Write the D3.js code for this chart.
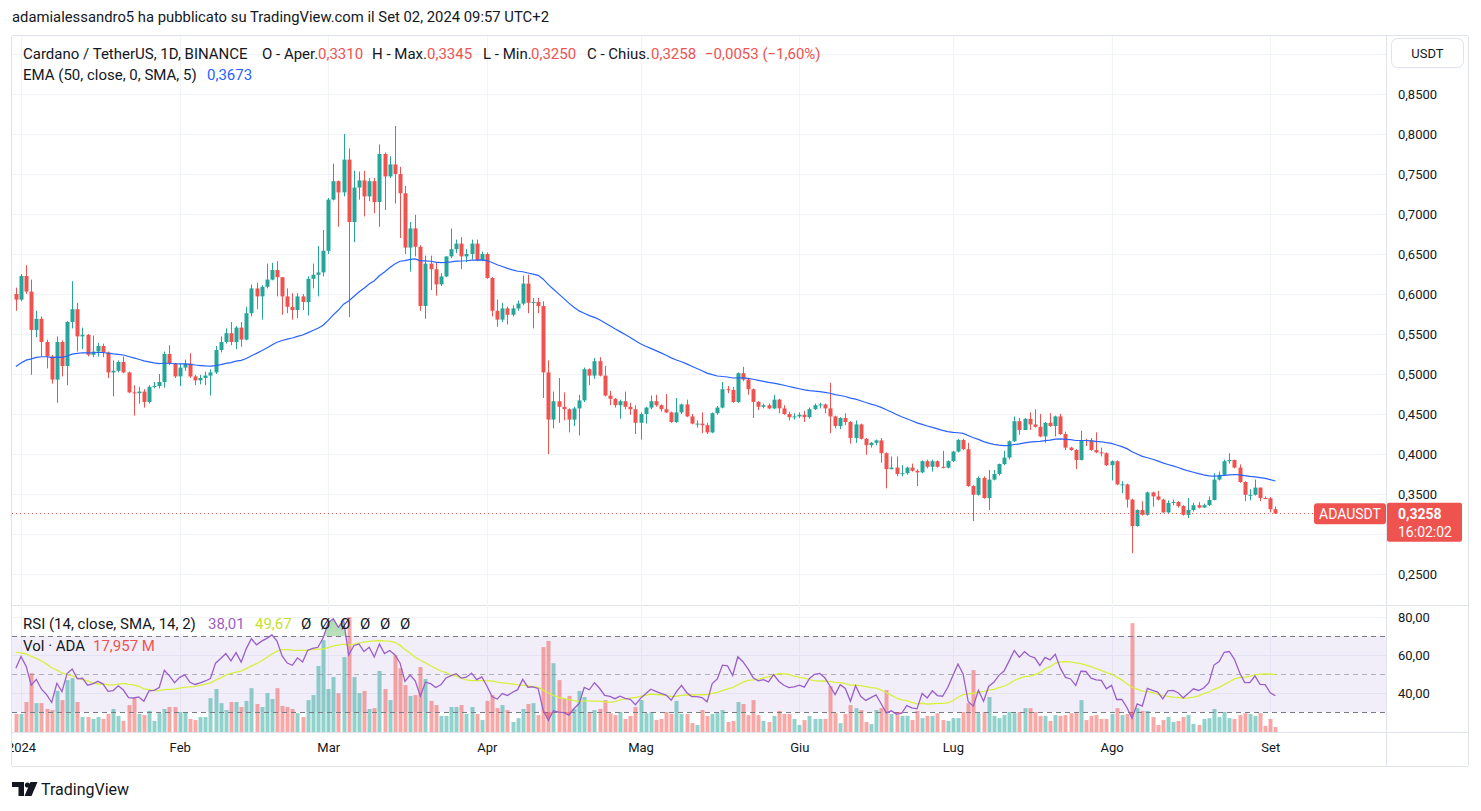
<!DOCTYPE html>
<html>
<head>
<meta charset="utf-8">
<script src="https://cdn.jsdelivr.net/npm/d3@7"></script>
<style>
  body { margin: 0; background: #fff; }
  svg { display: block; font-family: Roboto, "Noto Sans", sans-serif; }
  .axis text { fill: #131722; font-size: 13px; }
</style>
</head>
<body>
<svg id="chart" width="1481" height="811"></svg>
<script>
// daily candles ADA/USDT, 2023-12-31 .. 2024-09-02 (open = previous close)
var startDate = '2023-12-31';
var open0 = 0.600;
var closes = [
  0.593,
  // Jan
  0.6225,0.603,0.555,0.569,0.540,0.522,0.493,0.540,0.510,0.565,0.581,0.547,0.549,0.524,0.528,0.535,0.527,0.502,0.504,0.515,0.502,0.477,0.476,0.478,0.465,0.484,0.485,0.490,0.525,0.513,0.497,
  // Feb
  0.508,0.513,0.497,0.492,0.495,0.498,0.502,0.530,0.540,0.551,0.540,0.558,0.543,0.576,0.607,0.597,0.609,0.618,0.630,0.621,0.597,0.584,0.580,0.597,0.590,0.619,0.624,0.627,0.654,
  // Mar
  0.718,0.741,0.727,0.768,0.690,0.733,0.742,0.722,0.741,0.715,0.775,0.747,0.762,0.750,0.726,0.658,0.682,0.659,0.585,0.638,0.631,0.612,0.622,0.647,0.656,0.663,0.647,0.650,0.663,0.642,0.650,
  // Apr
  0.620,0.579,0.568,0.582,0.574,0.582,0.588,0.613,0.589,0.590,0.585,0.502,0.443,0.466,0.459,0.456,0.443,0.457,0.467,0.506,0.498,0.516,0.498,0.473,0.469,0.461,0.466,0.459,0.456,0.439,
  // May
  0.450,0.458,0.466,0.461,0.456,0.452,0.440,0.452,0.462,0.447,0.438,0.438,0.436,0.427,0.451,0.458,0.481,0.480,0.465,0.501,0.493,0.481,0.465,0.459,0.461,0.457,0.468,0.457,0.450,0.446,0.447,
  // Jun
  0.449,0.446,0.456,0.461,0.462,0.457,0.447,0.435,0.445,0.440,0.420,0.437,0.419,0.411,0.414,0.417,0.401,0.381,0.383,0.375,0.376,0.383,0.379,0.377,0.391,0.384,0.391,0.384,0.383,0.391,
  // Jul
  0.403,0.4175,0.406,0.360,0.349,0.370,0.345,0.368,0.375,0.3875,0.3955,0.416,0.441,0.430,0.444,0.437,0.434,0.422,0.439,0.435,0.447,0.425,0.408,0.405,0.3925,0.4175,0.417,0.405,0.402,0.401,0.386,
  // Aug
  0.391,0.362,0.362,0.343,0.310,0.330,0.324,0.352,0.347,0.343,0.327,0.339,0.340,0.335,0.324,0.330,0.336,0.333,0.336,0.3425,0.368,0.374,0.391,0.3925,0.383,0.365,0.349,0.349,0.358,0.345,0.3446,
  // Sep
  0.331,0.3258
];
var highs = [
  0.608,
  0.625,0.636,0.618,0.579,0.572,0.543,0.524,0.547,0.542,0.566,0.616,0.589,0.558,0.550,0.548,0.539,0.538,0.528,0.517,0.517,0.522,0.503,0.486,0.484,0.481,0.486,0.490,0.500,0.528,0.536,0.514,
  0.513,0.518,0.526,0.499,0.499,0.503,0.506,0.535,0.547,0.557,0.565,0.560,0.565,0.584,0.612,0.614,0.611,0.638,0.639,0.641,0.621,0.607,0.601,0.601,0.600,0.622,0.638,0.660,0.680,
  0.720,0.763,0.742,0.800,0.782,0.754,0.753,0.754,0.745,0.745,0.787,0.777,0.772,0.810,0.759,0.735,0.690,0.699,0.661,0.648,0.648,0.640,0.626,0.647,0.682,0.668,0.671,0.656,0.668,0.668,0.653,
  0.652,0.621,0.593,0.589,0.584,0.586,0.592,0.623,0.624,0.595,0.595,0.591,0.517,0.478,0.495,0.477,0.457,0.459,0.474,0.508,0.507,0.520,0.521,0.510,0.479,0.470,0.468,0.478,0.464,0.461,
  0.452,0.459,0.473,0.474,0.462,0.475,0.453,0.470,0.463,0.468,0.450,0.442,0.452,0.439,0.452,0.460,0.490,0.485,0.484,0.502,0.509,0.494,0.482,0.466,0.463,0.463,0.474,0.469,0.461,0.453,0.451,
  0.452,0.454,0.458,0.463,0.464,0.463,0.489,0.448,0.446,0.451,0.441,0.442,0.438,0.420,0.415,0.418,0.420,0.402,0.397,0.397,0.386,0.384,0.388,0.381,0.392,0.393,0.393,0.392,0.404,0.392,
  0.404,0.419,0.419,0.414,0.361,0.372,0.372,0.380,0.380,0.388,0.404,0.417,0.447,0.445,0.445,0.452,0.456,0.450,0.440,0.451,0.448,0.450,0.428,0.409,0.406,0.429,0.419,0.420,0.427,0.408,0.402,
  0.392,0.392,0.366,0.363,0.344,0.331,0.341,0.353,0.353,0.354,0.344,0.342,0.343,0.341,0.336,0.345,0.339,0.340,0.338,0.347,0.376,0.378,0.393,0.401,0.393,0.387,0.366,0.356,0.368,0.358,0.347,
  0.346,0.3345
];
var lows = [
  0.579,
  0.591,0.600,0.499,0.546,0.522,0.507,0.488,0.464,0.497,0.486,0.557,0.528,0.531,0.522,0.521,0.522,0.521,0.495,0.472,0.502,0.501,0.476,0.448,0.463,0.458,0.463,0.482,0.482,0.483,0.511,0.495,
  0.485,0.504,0.495,0.486,0.487,0.486,0.473,0.500,0.527,0.538,0.536,0.531,0.534,0.542,0.572,0.581,0.568,0.607,0.617,0.597,0.574,0.576,0.568,0.570,0.580,0.573,0.607,0.597,0.622,
  0.650,0.717,0.684,0.722,0.571,0.665,0.718,0.697,0.716,0.701,0.684,0.705,0.745,0.713,0.670,0.650,0.628,0.647,0.579,0.569,0.605,0.598,0.610,0.621,0.645,0.651,0.631,0.640,0.643,0.641,0.641,
  0.619,0.572,0.559,0.565,0.562,0.572,0.579,0.586,0.576,0.557,0.576,0.470,0.400,0.432,0.439,0.442,0.427,0.435,0.423,0.465,0.486,0.494,0.497,0.472,0.461,0.458,0.444,0.456,0.449,0.425,
  0.418,0.438,0.456,0.459,0.453,0.451,0.439,0.439,0.450,0.446,0.437,0.433,0.426,0.425,0.426,0.449,0.457,0.476,0.464,0.464,0.491,0.474,0.445,0.455,0.457,0.456,0.456,0.451,0.449,0.442,0.443,
  0.445,0.440,0.444,0.455,0.457,0.451,0.426,0.432,0.431,0.436,0.413,0.414,0.418,0.399,0.408,0.411,0.389,0.357,0.381,0.372,0.372,0.374,0.378,0.360,0.376,0.382,0.378,0.383,0.382,0.382,
  0.390,0.402,0.405,0.359,0.316,0.348,0.344,0.330,0.367,0.373,0.386,0.393,0.415,0.424,0.430,0.430,0.433,0.421,0.414,0.434,0.422,0.424,0.405,0.404,0.381,0.392,0.410,0.404,0.401,0.397,0.385,
  0.367,0.361,0.351,0.333,0.276,0.309,0.323,0.323,0.334,0.342,0.326,0.326,0.336,0.333,0.323,0.320,0.328,0.332,0.333,0.335,0.342,0.367,0.373,0.388,0.382,0.364,0.341,0.342,0.348,0.341,0.344,
  0.327,0.325
];
// volume, millions of ADA
var volumes = [
  65,
  65,108,212,104,104,83,79,148,115,187,194,108,54,54,47,54,47,65,83,58,40,97,122,65,61,76,40,68,83,90,90,
  72,72,47,43,54,54,122,155,104,79,108,108,90,112,158,101,90,140,119,158,94,90,83,68,54,115,133,238,331,
  155,198,140,270,414,198,140,148,83,86,220,155,115,277,230,169,130,133,234,191,112,97,58,58,90,90,97,65,90,65,43,
  112,133,86,97,79,36,50,83,101,104,61,306,328,248,187,119,130,83,148,126,72,79,83,115,68,61,72,47,58,90,
  115,68,72,43,47,72,65,112,65,65,32,25,79,58,65,68,79,36,40,108,101,61,115,61,40,36,58,76,65,65,47,
  25,43,58,47,47,47,166,68,32,65,97,86,79,36,29,79,86,151,65,61,58,58,43,76,50,58,58,68,43,40,
  50,50,72,104,223,68,72,126,58,50,61,72,68,72,86,86,72,58,58,40,61,58,61,68,68,115,43,58,61,47,47,
  65,86,61,65,392,86,76,76,54,25,43,54,36,40,54,61,29,25,47,50,83,54,72,50,47,61,68,65,58,68,22,
  47,18
];

var monthTicks = ['2024-01-01','2024-02-01','2024-03-01','2024-04-01','2024-05-01','2024-06-01','2024-07-01','2024-08-01','2024-09-01'];
var monthNames = ['2024','Feb','Mar','Apr','Mag','Giu','Lug','Ago','Set'];
// 0,3000 sits under the last-price label, so it has no text
var priceTicks = [0.25,0.35,0.40,0.45,0.50,0.55,0.60,0.65,0.70,0.75,0.80,0.85];
var priceGrid = [0.25,0.30,0.35,0.40,0.45,0.50,0.55,0.60,0.65,0.70,0.75,0.80,0.85,0.90];
var rsiTicks = [80,60,40];
var rsiLevels = [70,50,30];

// indicator settings / warm-up values
var emaLength = 50, emaSeed = 0.506;
var rsiLength = 14, rsiSeedGain = 0.0085, rsiSeedLoss = 0.007;
var rsiMaLength = 14, rsiMaSeed = 62;

var lastPrice = 0.3258;

var up = '#26a69a', down = '#ef5350';
var plotL = 12, plotR = 1386, axisR = 1468;
var mainTop = 36, mainBot = 605, rsiBot = 732, timeBot = 766;

var svg = d3.select('#chart');
var loc = d3.formatLocale({decimal: ',', thousands: '.', grouping: [3], currency: ['', '']});
var f4 = loc.format('.4f'), f2 = loc.format('.2f');
var parse = d3.utcParse('%Y-%m-%d');

var t0 = parse(startDate);
var candles = closes.map(function (c, i) {
	return {
		date: d3.utcDay.offset(t0, i),
		o: i === 0 ? open0 : closes[i - 1],
		h: highs[i], l: lows[i], c: c, v: volumes[i]
	};
});

// EMA 50
var k = 2 / (emaLength + 1), e = emaSeed;
candles.forEach(function (d) { e = e + k * (d.c - e); d.ema = e; });

// RSI 14 (Wilder) + SMA 14 of it
var ag = rsiSeedGain, al = rsiSeedLoss;
candles.forEach(function (d) {
	var ch = d.c - d.o;
	ag = (ag * (rsiLength - 1) + Math.max(ch, 0)) / rsiLength;
	al = (al * (rsiLength - 1) + Math.max(-ch, 0)) / rsiLength;
	d.rsi = 100 - 100 / (1 + ag / al);
});
candles.forEach(function (d, i) {
	var s = 0;
	for (var j = i - rsiMaLength + 1; j <= i; j++) s += j < 0 ? rsiMaSeed : candles[j].rsi;
	d.rsiMa = s / rsiMaLength;
});

var x = d3.scaleUtc().domain([parse('2024-01-01'), parse('2024-09-02')]).range([21, 1275.4]);
var y = d3.scaleLinear().domain([0.25, 0.85]).range([574, 94]);
var yr = d3.scaleLinear().domain([30, 70]).range([712, 636]);
var yv = d3.scaleLinear().domain([0, 400]).range([rsiBot, rsiBot - 111]);

var defs = svg.append('defs');
defs.append('clipPath').attr('id', 'clipMain').append('rect')
	.attr('x', plotL).attr('y', mainTop).attr('width', plotR - plotL).attr('height', mainBot - mainTop);
defs.append('clipPath').attr('id', 'clipRsi').append('rect')
	.attr('x', plotL).attr('y', mainBot + 1).attr('width', plotR - plotL).attr('height', rsiBot - mainBot - 1);
defs.append('clipPath').attr('id', 'clipTime').append('rect')
	.attr('x', plotL).attr('y', rsiBot).attr('width', plotR - plotL).attr('height', timeBot - rsiBot);
defs.append('clipPath').attr('id', 'clipOb').append('rect')
	.attr('x', plotL).attr('y', mainBot).attr('width', plotR - plotL).attr('height', yr(70) - mainBot);
defs.append('clipPath').attr('id', 'clipOs').append('rect')
	.attr('x', plotL).attr('y', yr(30)).attr('width', plotR - plotL).attr('height', rsiBot - yr(30));
var gOb = defs.append('linearGradient').attr('id', 'gOb').attr('x1', 0).attr('y1', 0).attr('x2', 0).attr('y2', 1);
gOb.append('stop').attr('offset', '0%').attr('stop-color', 'rgba(76,175,80,0.45)');
gOb.append('stop').attr('offset', '100%').attr('stop-color', 'rgba(76,175,80,0.03)');
var gOs = defs.append('linearGradient').attr('id', 'gOs').attr('x1', 0).attr('y1', 0).attr('x2', 0).attr('y2', 1);
gOs.append('stop').attr('offset', '0%').attr('stop-color', 'rgba(242,54,69,0.03)');
gOs.append('stop').attr('offset', '100%').attr('stop-color', 'rgba(242,54,69,0.45)');

// attribution
svg.append('text').attr('x', 12).attr('y', 22).attr('font-size', 14).attr('fill', '#131722')
	.attr('textLength', 537).attr('lengthAdjust', 'spacingAndGlyphs')
	.text('adamialessandro5 ha pubblicato su TradingView.com il Set 02, 2024 09:57 UTC+2');

// frame
var frame = svg.append('g').attr('stroke', '#e0e3eb').attr('fill', 'none');
frame.append('line').attr('x1', plotL).attr('x2', axisR).attr('y1', mainTop - 0.5).attr('y2', mainTop - 0.5);
frame.append('line').attr('x1', plotL).attr('x2', axisR).attr('y1', mainBot + 0.5).attr('y2', mainBot + 0.5);
frame.append('line').attr('x1', plotL).attr('x2', axisR).attr('y1', rsiBot + 0.5).attr('y2', rsiBot + 0.5);
frame.append('line').attr('x1', plotL).attr('x2', axisR).attr('y1', timeBot + 0.5).attr('y2', timeBot + 0.5);
frame.append('line').attr('x1', plotL - 0.5).attr('x2', plotL - 0.5).attr('y1', mainTop).attr('y2', timeBot);
frame.append('line').attr('x1', plotR + 0.5).attr('x2', plotR + 0.5).attr('y1', mainTop).attr('y2', timeBot);
frame.append('line').attr('x1', axisR + 0.5).attr('x2', axisR + 0.5).attr('y1', mainTop).attr('y2', timeBot);

// grid
var grid = svg.append('g').attr('stroke', '#f0f3fa');
grid.selectAll('.vg').data(monthTicks).enter().append('line')
	.attr('x1', function (d) { return Math.round(x(parse(d))) + 0.5; })
	.attr('x2', function (d) { return Math.round(x(parse(d))) + 0.5; })
	.attr('y1', mainTop).attr('y2', rsiBot);
grid.append('g').attr('clip-path', 'url(#clipMain)').selectAll('line').data(priceGrid).enter().append('line')
	.attr('x1', plotL).attr('x2', plotR)
	.attr('y1', function (d) { return Math.round(y(d)) + 0.5; })
	.attr('y2', function (d) { return Math.round(y(d)) + 0.5; });
grid.selectAll('.rg').data(rsiTicks).enter().append('line')
	.attr('x1', plotL).attr('x2', plotR)
	.attr('y1', function (d) { return Math.round(yr(d)) + 0.5; })
	.attr('y2', function (d) { return Math.round(yr(d)) + 0.5; });

// candles
var main = svg.append('g').attr('clip-path', 'url(#clipMain)');
var cg = main.selectAll('g.candle').data(candles).enter().append('g')
	.attr('fill', function (d) { return d.c >= d.o ? up : down; })
	.attr('stroke', function (d) { return d.c >= d.o ? up : down; });
cg.append('line')
	.attr('x1', function (d) { return Math.round(x(d.date)) + 0.5; })
	.attr('x2', function (d) { return Math.round(x(d.date)) + 0.5; })
	.attr('y1', function (d) { return y(d.h); })
	.attr('y2', function (d) { return y(d.l); });
cg.append('rect').attr('stroke', 'none')
	.attr('x', function (d) { return Math.round(x(d.date)) - 1.5; })
	.attr('width', 4)
	.attr('y', function (d) { return y(Math.max(d.o, d.c)); })
	.attr('height', function (d) { return Math.max(1, Math.abs(y(d.o) - y(d.c))); });

// EMA
main.append('path').datum(candles)
	.attr('fill', 'none').attr('stroke', '#2962ff').attr('stroke-width', 1.2)
	.attr('d', d3.line().x(function (d) { return x(d.date); }).y(function (d) { return y(d.ema); }));

// last price line
main.append('line').attr('x1', plotL).attr('x2', plotR)
	.attr('y1', Math.round(y(lastPrice)) + 0.5).attr('y2', Math.round(y(lastPrice)) + 0.5)
	.attr('stroke', down).attr('stroke-dasharray', '1,3');

// RSI pane
var rp = svg.append('g').attr('clip-path', 'url(#clipRsi)');
rp.append('rect').attr('x', plotL).attr('width', plotR - plotL)
	.attr('y', yr(70)).attr('height', yr(30) - yr(70)).attr('fill', 'rgba(126,87,194,0.1)');
rp.selectAll('rect.vol').data(candles).enter().append('rect')
	.attr('x', function (d) { return Math.round(x(d.date)) - 1.5; })
	.attr('width', 4)
	.attr('y', function (d) { return yv(d.v); })
	.attr('height', function (d) { return rsiBot - yv(d.v); })
	.attr('fill', function (d) { return d.c >= d.o ? 'rgba(38,166,154,0.5)' : 'rgba(239,83,80,0.5)'; });
rp.selectAll('line.lvl').data(rsiLevels).enter().append('line')
	.attr('x1', plotL).attr('x2', plotR)
	.attr('y1', function (d) { return Math.round(yr(d)) + 0.5; })
	.attr('y2', function (d) { return Math.round(yr(d)) + 0.5; })
	.attr('stroke', function (d) { return d === 50 ? 'rgba(120,123,134,0.55)' : '#787b86'; })
	.attr('stroke-dasharray', '5,4');
rp.append('path').datum(candles).attr('clip-path', 'url(#clipOb)').attr('fill', 'url(#gOb)')
	.attr('d', d3.area().x(function (d) { return x(d.date); }).y0(yr(70)).y1(function (d) { return yr(d.rsi); }));
rp.append('path').datum(candles).attr('clip-path', 'url(#clipOs)').attr('fill', 'url(#gOs)')
	.attr('d', d3.area().x(function (d) { return x(d.date); }).y0(yr(30)).y1(function (d) { return yr(d.rsi); }));
rp.append('path').datum(candles)
	.attr('fill', 'none').attr('stroke', '#d7f03c').attr('stroke-width', 1.3)
	.attr('d', d3.line().x(function (d) { return x(d.date); }).y(function (d) { return yr(d.rsiMa); }));
rp.append('path').datum(candles)
	.attr('fill', 'none').attr('stroke', '#9a5fc9').attr('stroke-width', 1.3)
	.attr('d', d3.line().x(function (d) { return x(d.date); }).y(function (d) { return yr(d.rsi); }));

// axes
var pa = svg.append('g').attr('class', 'axis').attr('transform', 'translate(' + plotR + ',0)')
	.call(d3.axisRight(y).tickValues(priceTicks).tickFormat(f4).tickSize(0).tickPadding(12));
var ra = svg.append('g').attr('class', 'axis').attr('transform', 'translate(' + plotR + ',0)')
	.call(d3.axisRight(yr).tickValues(rsiTicks).tickFormat(f2).tickSize(0).tickPadding(12));
var ta = svg.append('g').attr('clip-path', 'url(#clipTime)').append('g').attr('class', 'axis')
	.attr('transform', 'translate(0,' + rsiBot + ')')
	.call(d3.axisBottom(x).tickValues(monthTicks.map(parse))
		.tickFormat(function (d, i) { return monthNames[i]; }).tickSize(0).tickPadding(11));
[pa, ra, ta].forEach(function (a) {
	a.select('.domain').remove();
	a.selectAll('text').attr('font-family', 'Roboto, sans-serif');
});

// USDT button
svg.append('rect').attr('x', 1391.5).attr('y', 38.5).attr('width', 72).attr('height', 29).attr('rx', 6)
	.attr('fill', '#fff').attr('stroke', '#e0e3eb');
svg.append('text').attr('x', 1427.5).attr('y', 53).attr('text-anchor', 'middle').attr('dominant-baseline', 'central')
	.attr('font-size', 13).attr('fill', '#131722').text('USDT');

// price labels
var py = y(lastPrice);
svg.append('rect').attr('x', 1314).attr('y', py - 10).attr('width', 72).attr('height', 21).attr('rx', 3).attr('fill', down);
svg.append('text').attr('x', 1350).attr('y', py + 0.5).attr('text-anchor', 'middle').attr('dominant-baseline', 'central')
	.attr('font-size', 14).attr('fill', '#fff').text('ADAUSDT');
svg.append('rect').attr('x', 1387).attr('y', py - 10.5).attr('width', 75).attr('height', 39).attr('rx', 2).attr('fill', down);
svg.append('text').attr('x', 1398).attr('y', py + 0.5).attr('dominant-baseline', 'central')
	.attr('font-size', 14).attr('font-weight', 'bold').attr('fill', '#fff').text(f4(lastPrice));
svg.append('text').attr('x', 1398).attr('y', py + 18.5).attr('dominant-baseline', 'central')
	.attr('font-size', 14).attr('fill', '#fff').text('16:02:02');

// legends
function legend(parts, yy) {
	parts.forEach(function (p) {
		svg.append('text').attr('x', p[0]).attr('y', yy).attr('dominant-baseline', 'central')
			.attr('font-size', 15).attr('fill', p[2] || '#131722').text(p[1]);
	});
}
legend([
	[23, 'Cardano / TetherUS, 1D, BINANCE'],
	[262, 'O - Aper.'], [318, '0,3310', down],
	[372, 'H - Max.'], [427, '0,3345', down],
	[483, 'L - Min.'], [531, '0,3250', down],
	[587, 'C - Chius.'], [651, '0,3258', down],
	[705, '\u22120,0053 (\u22121,60%)', down]
], 54);
legend([[23, 'EMA (50, close, 0, SMA, 5)'], [207, '0,3673', '#2962ff']], 75);
legend([
	[23, 'RSI (14, close, SMA, 14, 2)'], [208, '38,01', '#9a5fc9'], [255, '49,67', '#c5e030'],
	[301, '\u00d8'], [320, '\u00d8'], [340, '\u00d8'], [360, '\u00d8'], [380, '\u00d8'], [400, '\u00d8']
], 624);
legend([[23, 'Vol \u00b7 ADA'], [93, '17,957 M', down]], 646);

// footer logo
var logo = svg.append('g').attr('fill', '#131722');
logo.append('path').attr('d', 'M12 782 H24 V796 H18.5 V787 H12 Z');
logo.append('circle').attr('cx', 27.5).attr('cy', 785).attr('r', 2.6);
logo.append('path').attr('d', 'M30.5 782 H37.5 L31.5 796 H24.5 Z');
svg.append('text').attr('x', 41).attr('y', 789).attr('dominant-baseline', 'central')
	.attr('font-size', 16).attr('fill', '#131722').text('TradingView');
</script>
</body>
</html>
